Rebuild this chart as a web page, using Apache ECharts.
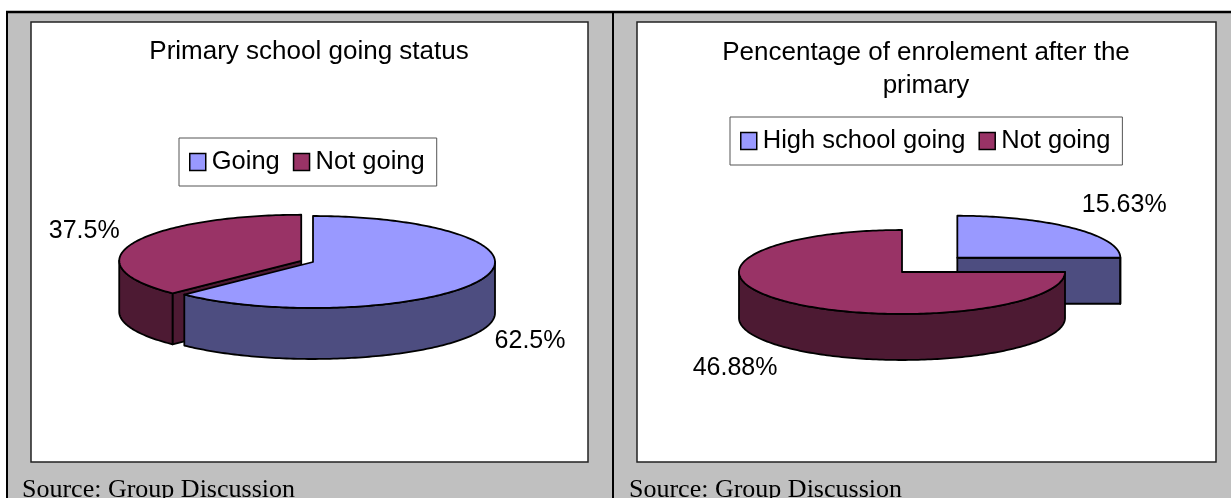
<!DOCTYPE html>
<html>
<head>
<meta charset="utf-8">
<style>
  html, body { margin: 0; padding: 0; background: #ffffff; }
  #chart { width: 1231px; height: 498px; }
</style>
<script src="https://cdn.jsdelivr.net/npm/echarts@6/dist/echarts.min.js"></script>
</head>
<body>
<div id="chart"></div>
<script>
// ---------------- data ----------------
const leftTitle = 'Primary school going status';
const leftCategories = ['Going', 'Not going'];
const leftValues = [62.5, 37.5];
const leftLabels = ['62.5%', '37.5%'];

const rightTitle = 'Pencentage of enrolement after the\nprimary';
const rightCategories = ['High school going', 'Not going'];
const rightValues = [15.63, 46.88];
const rightLabels = ['15.63%', '46.88%'];

const sourceText = 'Source: Group Discussion';

// ---------------- styles ----------------
const SANS = '"Liberation Sans", Arial, sans-serif';
const SERIF = '"Liberation Serif", "Times New Roman", serif';
const TOP_COLORS = ['#9999FF', '#993366'];
const SIDE_COLORS = ['#4D4D80', '#4D1A33'];

const leftPie = { cx: 313, cy: 262, rx: 182, ry: 46, depth: 51, explode: [0, 0.07] };
const rightPie = { cx: 902, cy: 272, rx: 163, ry: 42, depth: 46, explode: [0.48, 0] };

function makeRenderer(values, labels, idx, pie) {
  return function (params, api) {
    const total = values.reduce((a, b) => a + b, 0);
    let before = 0;
    for (let j = 0; j < idx; j++) before += values[j];
    const v = api.value(0);
    const a0 = before / total * Math.PI * 2;
    const a1 = (before + v) / total * Math.PI * 2;
    const mid = (a0 + a1) / 2;
    const k = pie.explode[idx];
    const cx = pie.cx + pie.rx * k * Math.sin(mid);
    const cy = pie.cy - pie.ry * k * Math.cos(mid);
    const d = pie.depth;
    const P = (a, dy) => [cx + pie.rx * Math.sin(a), cy - pie.ry * Math.cos(a) + (dy || 0)];
    const arc = (from, to, dy) => {
      const n = Math.max(2, Math.ceil(Math.abs(to - from) / 0.02));
      const pts = [];
      for (let i = 0; i <= n; i++) pts.push(P(from + (to - from) * i / n, dy));
      return pts;
    };
    const stroke = { stroke: '#000', lineWidth: 1.8, lineJoin: 'round' };
    const side = Object.assign({ fill: SIDE_COLORS[idx] }, stroke);
    const top = Object.assign({ fill: TOP_COLORS[idx] }, stroke);
    const children = [];
    // radial cut faces facing the viewer
    if (Math.sin(a0) < -1e-6) {
      const e = P(a0);
      children.push({ type: 'polygon', shape: { points: [[cx, cy], e, [e[0], e[1] + d], [cx, cy + d]] }, style: side });
    }
    if (Math.sin(a1) > 1e-6) {
      const e = P(a1);
      children.push({ type: 'polygon', shape: { points: [[cx, cy], e, [e[0], e[1] + d], [cx, cy + d]] }, style: side });
    }
    // curved outer wall (front half only)
    const lo = Math.max(a0, Math.PI / 2);
    const hi = Math.min(a1, Math.PI * 1.5);
    if (hi > lo) {
      const pts = arc(lo, hi, 0).concat(arc(hi, lo, d));
      children.push({ type: 'polygon', shape: { points: pts }, style: side });
    }
    // top face
    children.push({ type: 'polygon', shape: { points: [[cx, cy]].concat(arc(a0, a1, 0)) }, style: top });
    // data label
    const s = Math.sin(mid), c = Math.cos(mid);
    children.push({
      type: 'text',
      x: cx + pie.rx * 1.08 * s,
      y: cy - c * (pie.ry * 1.08 + 29) + (c < 0 ? d - 2 : 0),
      style: {
        text: labels[idx], fill: '#000', font: '25px ' + SANS,
        align: s >= 0 ? 'left' : 'right', verticalAlign: 'middle'
      }
    });
    return { type: 'group', children: children };
  };
}

function pieSeries(categories, values, labels, pie) {
  const total = values.reduce((a, b) => a + b, 0);
  let acc = 0;
  return categories.map((name, idx) => {
    const mid = (acc + values[idx] / 2) / total * Math.PI * 2;
    acc += values[idx];
    return {
      type: 'custom',
      name: name,
      coordinateSystem: 'none',
      z: 3 - Math.cos(mid),
      silent: true,
      itemStyle: { color: TOP_COLORS[idx] },
      data: [[values[idx]]],
      renderItem: makeRenderer(values, labels, idx, pie)
    };
  });
}

function legendOpt(data, left, top) {
  return {
    data: data, left: left, top: top, orient: 'horizontal',
    padding: [11, 12, 11, 10], itemGap: 13, itemWidth: 16, itemHeight: 17,
    icon: 'rect', borderColor: '#555', borderWidth: 1, backgroundColor: '#fff',
    borderRadius: 0, selectedMode: false,
    itemStyle: { borderColor: '#000', borderWidth: 1.5 },
    textStyle: { fontSize: 25.5, fontFamily: SANS, color: '#000', padding: [0, 0, 0, 1] }
  };
}

const chart = echarts.init(document.getElementById('chart'), null, { renderer: 'canvas' });
chart.setOption({
  backgroundColor: '#ffffff',
  animation: false,
  title: [
    { text: leftTitle, left: 309, top: 37, textAlign: 'center', padding: 0,
      textStyle: { fontSize: 26, fontWeight: 'normal', fontFamily: SANS, color: '#000', lineHeight: 30 } },
    { text: rightTitle, left: 926, top: 36, textAlign: 'center', padding: 0,
      textStyle: { fontSize: 26, fontWeight: 'normal', fontFamily: SANS, color: '#000', lineHeight: 33 } }
  ],
  legend: [
    legendOpt(leftCategories, 179, 138),
    legendOpt(rightCategories, 730, 117)
  ],
  graphic: [
    { type: 'rect', z: -10, shape: { x: 7, y: 12, width: 1224, height: 486 }, style: { fill: '#C0C0C0' } },
    { type: 'rect', z: -9, shape: { x: 31, y: 22, width: 557, height: 440 }, style: { fill: '#fff', stroke: '#222', lineWidth: 1.5 } },
    { type: 'rect', z: -9, shape: { x: 637, y: 22, width: 579, height: 440 }, style: { fill: '#fff', stroke: '#222', lineWidth: 1.5 } },
    { type: 'line', z: -8, shape: { x1: 6, y1: 12, x2: 1231, y2: 12 }, style: { stroke: '#000', lineWidth: 2.5 } },
    { type: 'line', z: -8, shape: { x1: 7, y1: 12, x2: 7, y2: 498 }, style: { stroke: '#000', lineWidth: 2 } },
    { type: 'line', z: -8, shape: { x1: 613, y1: 12, x2: 613, y2: 498 }, style: { stroke: '#000', lineWidth: 2 } },
    { type: 'text', z: -7, x: 22, y: 490, style: { text: sourceText, font: '26px ' + SERIF, fill: '#000', verticalAlign: 'middle' } },
    { type: 'text', z: -7, x: 629, y: 490, style: { text: sourceText, font: '26px ' + SERIF, fill: '#000', verticalAlign: 'middle' } }
  ],
  series: pieSeries(leftCategories, leftValues, leftLabels, leftPie)
    .concat(pieSeries(rightCategories, rightValues, rightLabels, rightPie))
});
</script>
</body>
</html>
